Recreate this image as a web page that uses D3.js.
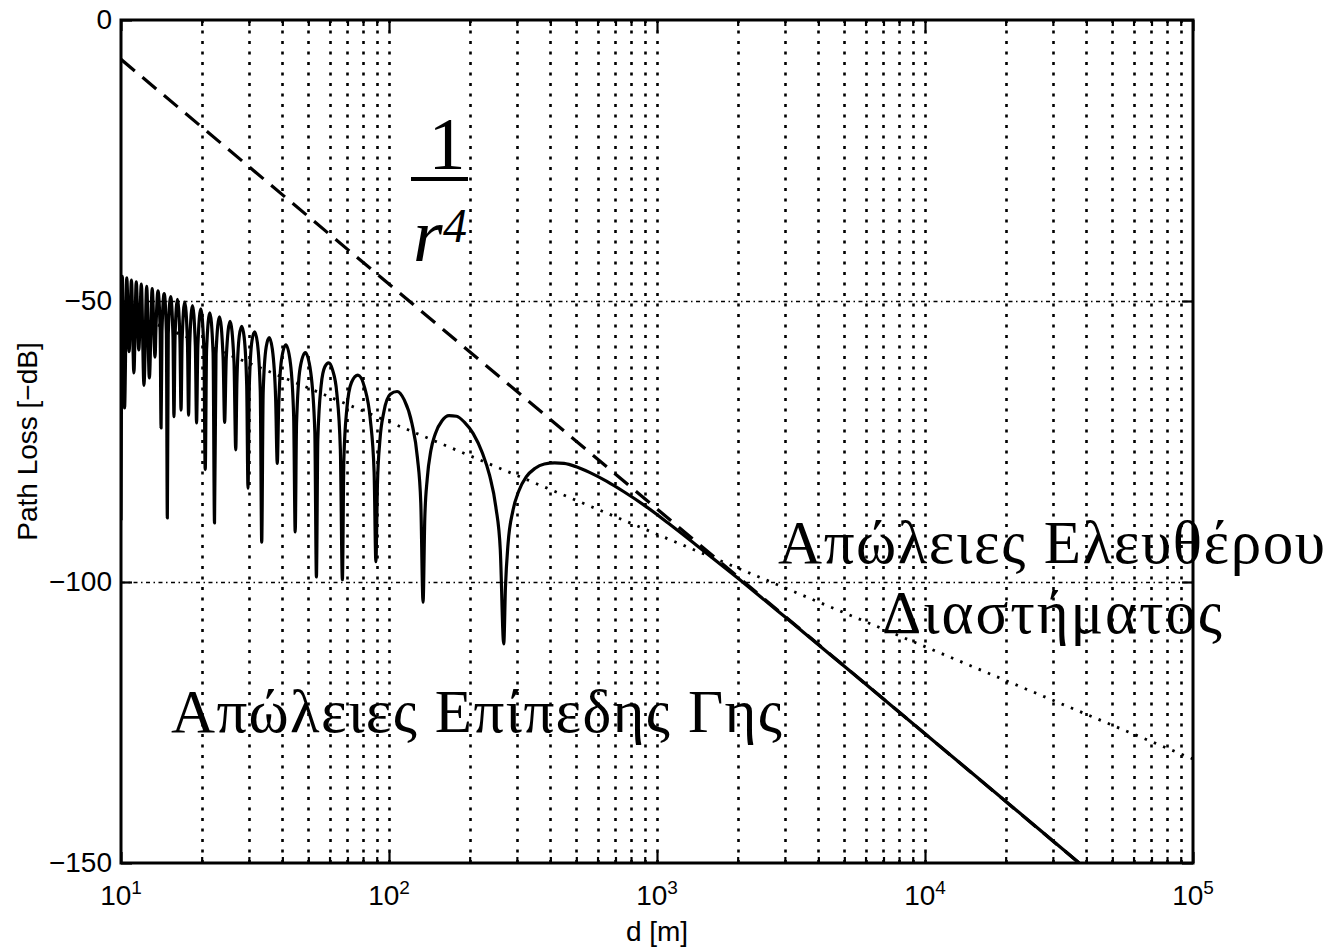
<!DOCTYPE html>
<html><head><meta charset="utf-8">
<script src="https://cdn.jsdelivr.net/npm/d3@7"></script>
<style>body{margin:0;background:#fff}</style>
</head><body>
<svg id="chart" width="1335" height="947"></svg>
<script>
// ---------- data ----------
const xTickValues = [10, 100, 1000, 10000, 100000];
const xTickExponents = ["1", "2", "3", "4", "5"];
const yTickValues = [0, -50, -100, -150];
const yTickLabels = ["0", "\u221250", "\u2212100", "\u2212150"];

// free space loss (1/r^2), dotted
const freeSpaceD = [10, 100000];
const freeSpaceDB = [-51.5, -131.5];
// 1/r^4 asymptote, dashed
const r4D = [10, 100000];
const r4DB = [-7, -167];

// two-ray (flat earth) loss, solid
const groundD = [10, 10.11, 10.31, 10.51, 10.72, 10.94, 11.17, 11.40, 11.65, 11.91, 12.18, 12.47, 12.76, 13.07, 13.40,
  13.50, 13.74, 14.00, 14.11, 14.22, 14.49, 14.77, 14.89, 15.01, 15.31, 15.63, 15.76, 15.91, 16.24, 16.59, 16.75,
  16.91, 17.29, 17.70, 17.87, 18.05, 18.48, 18.94, 19.14, 19.35, 19.85, 20.38, 20.62, 20.86, 21.44, 22.06, 22.33,
  22.62, 23.30, 24.04, 24.36, 24.70, 25.52, 26.40, 26.80, 27.07, 27.63, 28.21, 28.82, 29.45, 29.78,
  30.11, 30.80, 31.53, 32.29, 33.09, 33.50, 33.92, 34.81, 35.73, 36.71, 37.75, 38.29,
  38.73, 39.70, 41.23, 42.88, 44.08, 44.67, 45.19, 46.61, 48.73, 51.05, 52.87, 53.60,
  54.25, 55.83, 57.63, 59.56, 61.61, 63.81, 65.84, 67.00, 67.85, 69.61, 72.43, 76.57, 81.21, 85.08, 88.00, 89.33,
  90.54, 92.41, 95.71, 101.1, 107.2, 114.0, 121.8, 127.6, 131.4, 134.0,
  136.0, 138.9, 143.3, 148.9, 157.7, 167.5, 178.7, 191.4, 206.2, 223.3, 237.2, 250.5, 260.2, 268,
  272, 278, 290, 305, 325, 350, 380, 415, 450, 500, 560, 650, 750, 900, 1100, 1400, 2000, 3000, 5000, 10000, 20000, 37600];
const groundDB = [-89, -45.6, -69, -45.9, -59, -46.3, -62.8, -46.6, -58.7, -47.0, -65, -47.4, -63.7, -47.8, -60,
  -55.0, -48.2, -55.3, -72.6, -55.4, -48.7, -55.7, -88.6, -55.9, -49.2, -56.2, -70.6, -56.4, -49.7, -56.7, -69.4,
  -56.9, -50.2, -57.3, -70.3, -57.5, -50.8, -57.9, -71.7, -58.1, -51.4, -58.5, -80, -58.7, -52.1, -59.2, -89.5,
  -59.4, -52.8, -60.0, -71.6, -60.2, -53.6, -60.8, -76.5, -64.3, -56.2, -54.5, -56.5, -65.1, -83.3,
  -65.3, -57.1, -55.5, -57.5, -66.1, -92.9, -66.3, -58.2, -56.5, -58.6, -67.2, -78.9,
  -69.3, -60.5, -57.8, -61.1, -70.5, -91.1, -71.8, -61.9, -59.2, -62.7, -73.2, -99.1,
  -74.7, -65.0, -61.7, -61.0, -62.3, -66.2, -76.4, -99.6, -78.2, -69.2, -64.5, -63.2, -65.5, -70.9, -80.5, -96.4,
  -82.7, -75.0, -69.7, -66.6, -66.1, -67.6, -71.8, -77.8, -85.9, -103.6,
  -88.7, -81.6, -76.6, -73.6, -71.3, -70.4, -70.5, -71.6, -73.6, -77.1, -81.0, -86.7, -94.3, -111,
  -100.9, -93.3, -87.3, -83.8, -81.3, -79.8, -79.0, -78.8, -78.9, -79.5, -80.5, -82.1, -83.9, -86.4, -89.5, -93.4,
  -99.3, -106.2, -115.0, -127.0, -139.0, -150];

const xLabel = "d [m]";
const yLabel = "Path Loss [\u2212dB]";
const freeLabel1 = "Απώλειες Ελευθέρου";
const freeLabel2 = "Διαστήματος";
const groundLabel = "Απώλειες Επίπεδης Γης";

// ---------- drawing ----------
const W = 1335, H = 947;
const L = 121, R = 1193, T = 20, B = 863;
const x = d3.scaleLog().domain([10, 1e5]).range([L, R]);
const y = d3.scaleLinear().domain([-150, 0]).range([B, T]);
const svg = d3.select("#chart");
svg.append("rect").attr("width", W).attr("height", H).attr("fill", "#fff");
svg.append("defs").append("clipPath").attr("id", "clip")
  .append("rect").attr("x", L).attr("y", T).attr("width", R - L).attr("height", B - T);

const sans = "'Liberation Sans', Arial, Helvetica, sans-serif";
const serif = "'Liberation Serif', 'Times New Roman', serif";

const allTicks = x.ticks();
const minorTicks = allTicks.filter(t => !xTickValues.includes(t));

// grid
svg.append("g").selectAll("line").data(allTicks.filter(t => t > 10 && t < 1e5)).join("line")
  .attr("x1", d => Math.round(x(d)) + 0.5).attr("x2", d => Math.round(x(d)) + 0.5).attr("y1", T).attr("y2", B)
  .attr("stroke", "#000").attr("stroke-width", 2.6).attr("stroke-dasharray", "3,7.5");
svg.append("g").selectAll("line").data(yTickValues.filter(v => v > -150 && v < 0)).join("line")
  .attr("x1", L).attr("x2", R).attr("y1", d => Math.round(y(d)) + 0.5).attr("y2", d => Math.round(y(d)) + 0.5)
  .attr("stroke", "#000").attr("stroke-width", 1.6).attr("stroke-dasharray", "4,3.5,1.5,3.5");

// curves
const plot = svg.append("g").attr("clip-path", "url(#clip)");
const straight = d3.line().x(d => x(d[0])).y(d => y(d[1]));
const smooth = d3.line().x(d => x(d[0])).y(d => y(d[1])).curve(d3.curveMonotoneX);
plot.append("path").datum(d3.zip(freeSpaceD, freeSpaceDB)).attr("d", straight)
  .attr("fill", "none").attr("stroke", "#000").attr("stroke-width", 2.8).attr("stroke-dasharray", "2.5,7.5");
plot.append("path").datum(d3.zip(r4D, r4DB)).attr("d", straight)
  .attr("fill", "none").attr("stroke", "#000").attr("stroke-width", 3.2).attr("stroke-dasharray", "18,10");
plot.append("path").datum(d3.zip(groundD, groundDB)).attr("d", smooth)
  .attr("fill", "none").attr("stroke", "#000").attr("stroke-width", 3.2).attr("stroke-linejoin", "round");

// axes ticks (inward)
function styleAxis(g) { g.select(".domain").remove(); g.selectAll("line").attr("stroke", "#000").attr("stroke-width", 2.2); }
svg.append("g").attr("transform", `translate(0,${B})`)
  .call(d3.axisBottom(x).tickValues(xTickValues).tickSize(-11).tickFormat("")).call(styleAxis);
svg.append("g").attr("transform", `translate(0,${B})`)
  .call(d3.axisBottom(x).tickValues(minorTicks).tickSize(-6).tickFormat("")).call(styleAxis);
svg.append("g").attr("transform", `translate(0,${T})`)
  .call(d3.axisTop(x).tickValues(xTickValues).tickSize(-11).tickFormat("")).call(styleAxis);
svg.append("g").attr("transform", `translate(0,${T})`)
  .call(d3.axisTop(x).tickValues(minorTicks).tickSize(-6).tickFormat("")).call(styleAxis);
const yl = svg.append("g").attr("transform", `translate(${L},0)`)
  .call(d3.axisLeft(y).tickValues(yTickValues).tickSize(-11).tickPadding(9)
    .tickFormat((d, i) => yTickLabels[i])).call(styleAxis);
yl.selectAll("text").attr("font-family", sans).attr("font-size", 28).attr("fill", "#000");
svg.append("g").attr("transform", `translate(${R},0)`)
  .call(d3.axisRight(y).tickValues(yTickValues).tickSize(-11).tickFormat("")).call(styleAxis);

// x tick labels with superscripts
const xt = svg.append("g").selectAll("text").data(xTickValues).join("text")
  .attr("x", d => x(d)).attr("y", 905).attr("text-anchor", "middle")
  .attr("font-family", sans).attr("font-size", 28).attr("fill", "#000");
xt.append("tspan").text("10");
xt.append("tspan").attr("dy", -11).attr("font-size", 19).text((d, i) => xTickExponents[i]);

// box
svg.append("rect").attr("x", L).attr("y", T).attr("width", R - L).attr("height", B - T)
  .attr("fill", "none").attr("stroke", "#000").attr("stroke-width", 3);

// axis labels
svg.append("text").attr("x", (L + R) / 2).attr("y", 941).attr("text-anchor", "middle")
  .attr("font-family", sans).attr("font-size", 28).text(xLabel);
svg.append("text").attr("transform", `translate(37,${(T + B) / 2}) rotate(-90)`).attr("text-anchor", "middle")
  .attr("font-family", sans).attr("font-size", 28).text(yLabel);

// annotations
svg.append("text").attr("x", 447).attr("y", 169).attr("text-anchor", "middle")
  .attr("font-family", serif).attr("font-size", 74).text("1");
svg.append("line").attr("x1", 411).attr("x2", 468).attr("y1", 179).attr("y2", 179)
  .attr("stroke", "#000").attr("stroke-width", 4);
svg.append("text").attr("x", 413).attr("y", 261).attr("font-family", serif)
  .attr("font-style", "italic").attr("font-size", 76).text("r");
svg.append("text").attr("x", 443).attr("y", 242).attr("font-family", serif)
  .attr("font-style", "italic").attr("font-size", 48).text("4");

svg.append("text").attr("x", 778).attr("y", 563).attr("font-family", serif).attr("font-size", 61)
  .attr("textLength", 547).text(freeLabel1);
svg.append("text").attr("x", 882).attr("y", 633).attr("font-family", serif).attr("font-size", 61)
  .attr("textLength", 340).text(freeLabel2);
svg.append("text").attr("x", 171).attr("y", 732).attr("font-family", serif).attr("font-size", 61)
  .attr("textLength", 611).text(groundLabel);
</script>
</body></html>
